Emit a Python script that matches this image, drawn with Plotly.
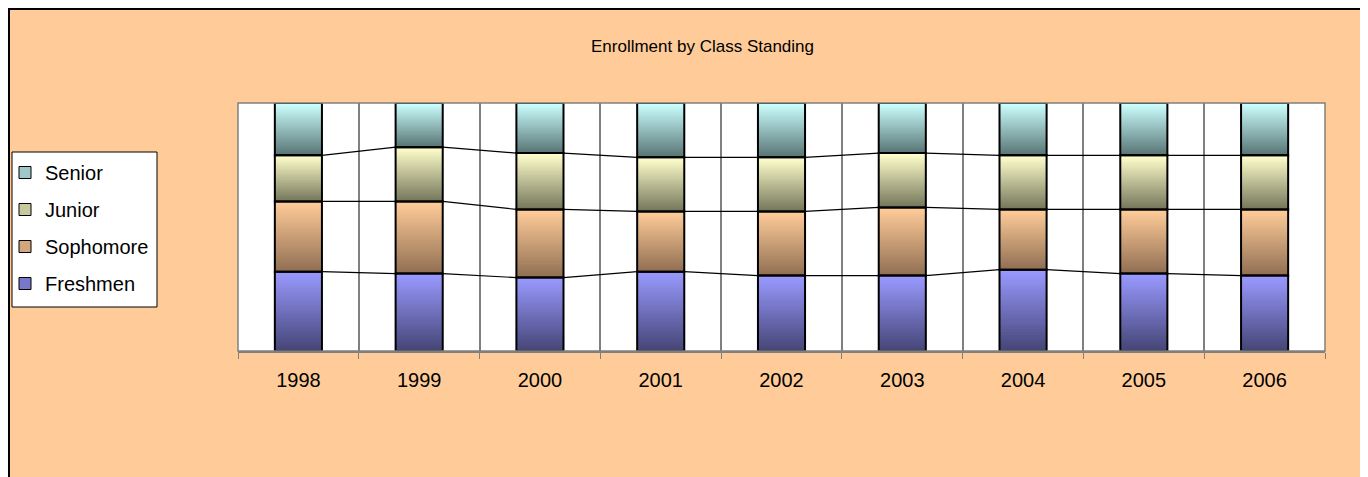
import plotly.graph_objects as go

# data (percent share of enrollment)
years = ['1998', '1999', '2000', '2001', '2002', '2003', '2004', '2005', '2006']
freshmen = [32.0, 31.2, 29.6, 32.0, 30.4, 30.4, 32.8, 31.2, 30.4]
sophomore = [28.3, 29.1, 27.5, 24.3, 25.9, 27.5, 24.3, 25.9, 26.7]
junior = [18.6, 21.9, 22.7, 21.8, 21.8, 21.9, 21.8, 21.8, 21.8]
senior = [21.1, 17.8, 20.2, 21.9, 21.9, 20.2, 21.1, 21.1, 21.1]

# name, values, light (top) colour, dark (bottom) colour
SERIES = [
    ('Freshmen', freshmen, (153, 153, 255), (70, 70, 120)),
    ('Sophomore', sophomore, (255, 204, 153), (146, 112, 84)),
    ('Junior', junior, (255, 255, 204), (118, 120, 92)),
    ('Senior', senior, (204, 255, 255), (90, 118, 118)),
]

BAR_W = 0.39
N_STEPS = 30
FONT = 'Liberation Sans, Arial, sans-serif'

# page geometry (the html body adds an 8px margin)
W, H = 1360, 469
ML, MR, MT, MB = 230, 43, 95, 126
PW, PH = W - ML - MR, H - MT - MB


def px_x(x):  # page x -> paper x
    return (x - 8 - ML) / PW


def px_y(y):  # page y -> paper y
    return (H - MB + 8 - y) / PH


def mix(c1, c2, t):
    return 'rgb(%d,%d,%d)' % tuple(round(a + (b - a) * t) for a, b in zip(c1, c2))


fig = go.Figure()
xs = list(range(len(years)))

# normalise to 100%
totals = [sum(v[i] for _, v, _, _ in SERIES) for i in xs]
bases = [0.0] * len(xs)
tops_by_series = []

for name, vals, light, dark in SERIES:
    pct = [v / t * 100 for v, t in zip(vals, totals)]
    # gradient: stack of thin slices, dark at bottom, light at top
    for k in range(N_STEPS):
        h = [p / N_STEPS for p in pct]
        fig.add_trace(go.Bar(
            x=xs, y=[hh * 1.8 for hh in h],
            base=[b + hh * k for b, hh in zip(bases, h)],
            width=BAR_W,
            marker=dict(color=mix(dark, light, k / (N_STEPS - 1)), line_width=0),
            showlegend=False, hoverinfo='skip',
        ))
    bases = [b + p for b, p in zip(bases, pct)]
    tops_by_series.append((pct, bases[:]))

# outlines on top of the gradients
for (name, _, _, _), (pct, tops) in zip(SERIES, tops_by_series):
    fig.add_trace(go.Bar(
        x=xs, y=pct, base=[t - p for t, p in zip(tops, pct)], width=BAR_W,
        marker=dict(color='rgba(0,0,0,0)', line=dict(color='black', width=2)),
        showlegend=False, name=name,
    ))

# series lines between adjacent bars
for _, tops in tops_by_series[:-1]:
    for i in xs[:-1]:
        fig.add_trace(go.Scatter(
            x=[i + BAR_W / 2, i + 1 - BAR_W / 2], y=[tops[i], tops[i + 1]],
            mode='lines', line=dict(color='black', width=1.2),
            showlegend=False, hoverinfo='skip',
        ))

# legend entries (Senior on top)
for name, vals, light, dark in reversed(SERIES):
    fig.add_trace(go.Bar(
        x=[None], y=[None], name=name, legendgroup=name,
        marker=dict(color=mix(dark, light, 0.6), line=dict(color='black', width=1)),
    ))

fig.update_layout(
    width=W, height=H,
    margin=dict(l=ML, r=MR, t=MT, b=MB, autoexpand=False),
    paper_bgcolor='#FFCC99',
    plot_bgcolor='white',
    barmode='overlay',
    font=dict(family=FONT, size=20, color='black'),
    showlegend=True,
    legend=dict(
        x=px_x(5), y=px_y(153), xanchor='left', yanchor='top',
        bgcolor='rgba(0,0,0,0)', borderwidth=0,
        traceorder='grouped', tracegroupgap=8, itemwidth=30,
        font=dict(family=FONT, size=20),
    ),
    xaxis=dict(
        range=[-0.5, len(years) - 0.5],
        tickvals=xs, ticktext=years, ticks='',
        showgrid=False, zeroline=False,
        showline=True, linecolor='#808080', linewidth=1.5,
        ticklabelstandoff=10,
        tickfont=dict(family=FONT, size=20),
        minor=dict(tick0=-0.5, dtick=1, showgrid=True, gridcolor='#808080',
                   gridwidth=1.5, ticks='outside', ticklen=6, tickcolor='#808080'),
    ),
    yaxis=dict(range=[0, 100], visible=False, fixedrange=True),
    shapes=[
        dict(type='rect', xref='paper', yref='paper', x0=0, x1=1, y0=0, y1=1,
             line=dict(color='#808080', width=1.5), layer='above'),
        dict(type='rect', xref='paper', yref='paper',
             x0=px_x(9), x1=1.2, y0=-0.8, y1=px_y(9),
             line=dict(color='black', width=2)),
        # legend box
        dict(type='rect', xref='paper', yref='paper',
             x0=px_x(12), x1=px_x(157), y0=px_y(307), y1=px_y(152),
             fillcolor='white', line=dict(color='black', width=1), layer='below'),
    ],
    annotations=[
        dict(text='Enrollment by Class Standing', xref='paper', yref='paper',
             x=px_x(702), y=px_y(46), yanchor='middle', showarrow=False,
             font=dict(family=FONT, size=17)),
    ],
)

fig.write_html("out.html")
